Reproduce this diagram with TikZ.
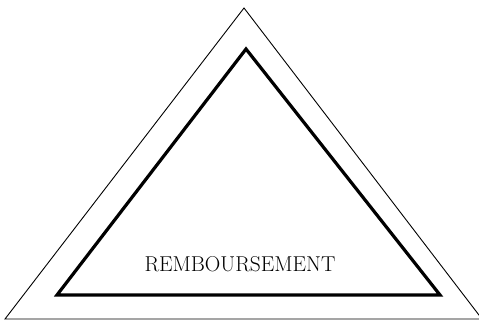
\documentclass[tikz,border=0pt]{standalone}
\usepackage{tikz}
\usetikzlibrary{positioning}

\begin{document}
\begin{tikzpicture}[x=1pt, y=-1pt,
    outer/.style={draw, line width=0.9pt, line join=miter},
    inner/.style={draw, line width=3.2pt, line join=miter},
    lab/.style={font=\fontsize{21.5}{24}\selectfont, inner sep=0pt}]
    \useasboundingbox (0,0) rectangle (479,320);
    \coordinate (ot) at (244,8);
    \coordinate (ol) at (5,319);
    \coordinate (or) at (482,319);
    \coordinate (it) at (246,49);
    \coordinate (il) at (57,295);
    \coordinate (ir) at (440,295);
    \draw[outer] (ol) -- (ot) -- (or) -- cycle;
    \draw[inner] (il) -- (it) -- (ir) -- cycle;
    \node[lab] (remb) at (240,264) {REMBOURSEMENT};
  \end{tikzpicture}
\end{document}
